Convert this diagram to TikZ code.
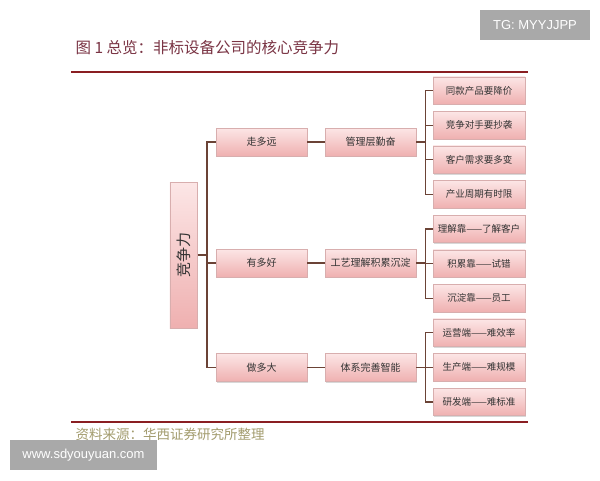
\documentclass[tikz,border=0pt]{standalone}
\usepackage{fontspec}
\setmainfont{Noto Sans CJK SC}
\newfontfamily\wmfont{Liberation Sans}
\usetikzlibrary{shadows}
\definecolor{pinktop}{HTML}{FCE6E6}
\definecolor{pinkbot}{HTML}{EFB0B0}
\definecolor{boxline}{HTML}{D8AEAE}
\definecolor{linkcol}{HTML}{6B4336}
\definecolor{rulecol}{HTML}{8A1E22}
\definecolor{titlecol}{HTML}{7A3444}
\definecolor{srccol}{HTML}{A39C6E}
\definecolor{wmgray}{HTML}{A9A9A9}
\tikzset{
  box/.style={draw=boxline, line width=0.5pt, top color=pinktop, bottom color=pinkbot,
    drop shadow={opacity=0.3, shadow xshift=1.2pt, shadow yshift=-1.2pt},
    text=black!80, inner sep=0pt, font=\fontsize{10}{12}\selectfont},
  branch/.style={box, minimum width=91pt, minimum height=28pt},
  leaf/.style={box, minimum width=92pt, minimum height=27.5pt, font=\fontsize{9.5}{11}\selectfont},
  link/.style={draw=linkcol, line width=1.2pt},
  mark box/.style={fill=wmgray, text=white, font=\wmfont\fontsize{13}{15}\selectfont, inner sep=0pt}
}
\begin{document}
\begin{tikzpicture}[x=1pt, y=-1pt]
	\useasboundingbox[fill=white] (0,0) rectangle (600,480);
	% title and rules
	\node[anchor=west, text=titlecol, font=\fontsize{15.5}{17}\selectfont] (title) at (72,48) {图 1 总览：非标设备公司的核心竞争力};
	\draw[rulecol, line width=2.2pt] (71,72) -- (528,72);
	\draw[rulecol, line width=2.2pt] (71,422) -- (528,422);
	\node[anchor=west, text=srccol, font=\fontsize{13.5}{15}\selectfont] (source) at (72,434) {资料来源：华西证券研究所整理};
	% tree
	\node[box, minimum width=27.5pt, minimum height=146pt, font=\fontsize{15}{17}\selectfont] (root) at (183.5,255) {\rotatebox{90}{竞争力}};
	\node[branch] (n1) at (261.5,142) {走多远};
	\node[branch] (n2) at (261.5,263) {有多好};
	\node[branch] (n3) at (261.5,367.5) {做多大};
	\node[branch] (m1) at (370.5,142) {管理层勤奋};
	\node[branch] (m2) at (370.5,263) {工艺理解积累沉淀};
	\node[branch] (m3) at (370.5,367.5) {体系完善智能};
	\foreach \t [count=\i] in {同款产品要降价, 竞争对手要抄袭, 客户需求要多变, 产业周期有时限,
		理解靠——了解客户, 积累靠——试错, 沉淀靠——员工, 运营端——难效率, 生产端——难规模, 研发端——难标准}
		\node[leaf] (l\i) at (479,{90.5+34.6*(\i-1)}) {\t};
	% connectors
	\coordinate (hub) at (207,255);
	\draw[link] (root.east) -- (hub);
	\draw[link] (n1.west) -| (hub) |- (n3.west);
	\draw[link] (hub) |- (n2.west);
	\foreach \k in {1,2,3}
		\draw[link] (n\k.east) -- (m\k.west);
	\foreach \m/\a/\b in {m1/1/4, m2/5/7, m3/8/10} {
		\draw[link] (\m.east) -- ++(9,0) coordinate (j\m);
		\foreach \k in {\a,...,\b}
			\draw[link] (j\m) |- (l\k.west);
	}
	% watermarks
	\node[mark box, minimum width=110pt, minimum height=30pt] (tg) at (535,25) {TG: MYYJJPP};
	\node[mark box, minimum width=147pt, minimum height=30pt] (site) at (83.5,455) {www.sdyouyuan.com};
\end{tikzpicture}
\end{document}
